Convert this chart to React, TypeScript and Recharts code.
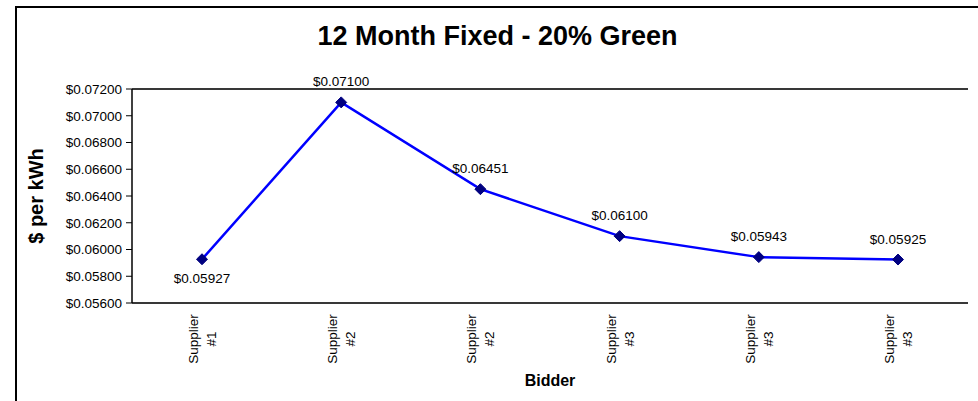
import React from "react";
import {
  LineChart,
  Line,
  XAxis,
  YAxis,
  CartesianGrid,
  ReferenceLine,
  LabelList,
} from "recharts";

const bidders = [
  "Supplier #1",
  "Supplier #2",
  "Supplier #2",
  "Supplier #3",
  "Supplier #3",
  "Supplier #3",
];
const prices = [0.05927, 0.071, 0.06451, 0.061, 0.05943, 0.05925];
const yTicks = [
  0.056, 0.058, 0.06, 0.062, 0.064, 0.066, 0.068, 0.07, 0.072,
];

const data = bidders.map((name, i) => ({ id: i, name, price: prices[i] }));

const FONT = '"Liberation Sans", Arial, sans-serif';
const money = (v: number) => `$${v.toFixed(5)}`;

const SupplierTick = (props: any) => {
  const { x, payload } = props;
  const [word, num] = bidders[payload.value].split(" ");
  return (
    <text
      transform={`translate(${x},339) rotate(-90)`}
      textAnchor="middle"
      fontFamily={FONT}
      fontSize={13.5}
      fill="#000"
    >
      <tspan x={0} y={-4}>
        {word}
      </tspan>
      <tspan x={0} y={14}>
        {num}
      </tspan>
    </text>
  );
};

const PriceLabel = (props: any) => {
  const { x, y, value, index } = props;
  const below = index === 0;
  return (
    <text
      x={x}
      y={below ? y + 24 : y - 16}
      textAnchor="middle"
      fontFamily={FONT}
      fontSize={13.5}
      fill="#000"
    >
      {money(value)}
    </text>
  );
};

const Diamond = (props: any) => {
  const { cx, cy } = props;
  if (cx == null || cy == null) return null;
  return (
    <path
      d={`M${cx},${cy - 5.5}L${cx + 5.5},${cy}L${cx},${cy + 5.5}L${cx - 5.5},${cy}Z`}
      fill="#000080"
      stroke="#000080"
    />
  );
};

export default function App() {
  return (
    <div
      style={{
        position: "relative",
        width: 978,
        height: 401,
        overflow: "hidden",
        background: "#fff",
        fontFamily: FONT,
      }}
    >
      <style>{`body{margin:0}`}</style>
      <div
        style={{
          position: "absolute",
          left: 15,
          top: 6,
          width: 1000,
          height: 1000,
          border: "2px solid #000",
        }}
      />
      <div
        style={{
          position: "absolute",
          left: 0,
          width: 995,
          top: 21,
          textAlign: "center",
          fontSize: 27,
          fontWeight: "bold",
          lineHeight: "30px",
          color: "#000",
        }}
      >
        12 Month Fixed - 20% Green
      </div>
      <div
        style={{
          position: "absolute",
          left: 36,
          top: 196,
          transform: "translate(-50%, -50%) rotate(-90deg)",
          whiteSpace: "nowrap",
          fontSize: 20,
          fontWeight: "bold",
          color: "#000",
        }}
      >
        $ per kWh
      </div>
      <div
        style={{
          position: "absolute",
          left: 550,
          top: 381,
          transform: "translate(-50%, -50%)",
          fontSize: 16,
          fontWeight: "bold",
          color: "#000",
        }}
      >
        Bidder
      </div>
      <div style={{ position: "absolute", left: 0, top: 0 }}>
        <LineChart
          width={978}
          height={401}
          data={data}
          margin={{ top: 89, right: 10, bottom: 8, left: 0 }}
        >
          <CartesianGrid vertical={false} stroke="#c0c0c0" strokeWidth={1} />
          <XAxis
            dataKey="id"
            type="category"
            height={90}
            padding={{ left: 70, right: 70 }}
            tick={<SupplierTick />}
            tickLine={false}
            interval={0}
            axisLine={{ stroke: "#000", strokeWidth: 1.5 }}
          />
          <YAxis
            yAxisId="left"
            width={132}
            domain={[0.056, 0.072]}
            ticks={yTicks}
            interval={0}
            tickFormatter={money}
            tickSize={6}
            tickMargin={4}
            tick={{ fill: "#000", fontSize: 13.5, fontFamily: FONT }}
            tickLine={{ stroke: "#000" }}
            axisLine={{ stroke: "#000", strokeWidth: 1.5 }}
          />
          <YAxis
            yAxisId="right"
            orientation="right"
            width={0}
            domain={[0.056, 0.072]}
            tick={false}
            tickLine={false}
            axisLine={{ stroke: "#000", strokeWidth: 1.5 }}
          />
          <ReferenceLine
            yAxisId="left"
            y={0.072}
            stroke="#000"
            strokeWidth={1.5}
          />
          <Line
            yAxisId="left"
            dataKey="price"
            type="linear"
            stroke="#0000ff"
            strokeWidth={2.5}
            dot={<Diamond />}
            activeDot={false}
            isAnimationActive={false}
          >
            <LabelList dataKey="price" content={<PriceLabel />} />
          </Line>
        </LineChart>
      </div>
    </div>
  );
}
